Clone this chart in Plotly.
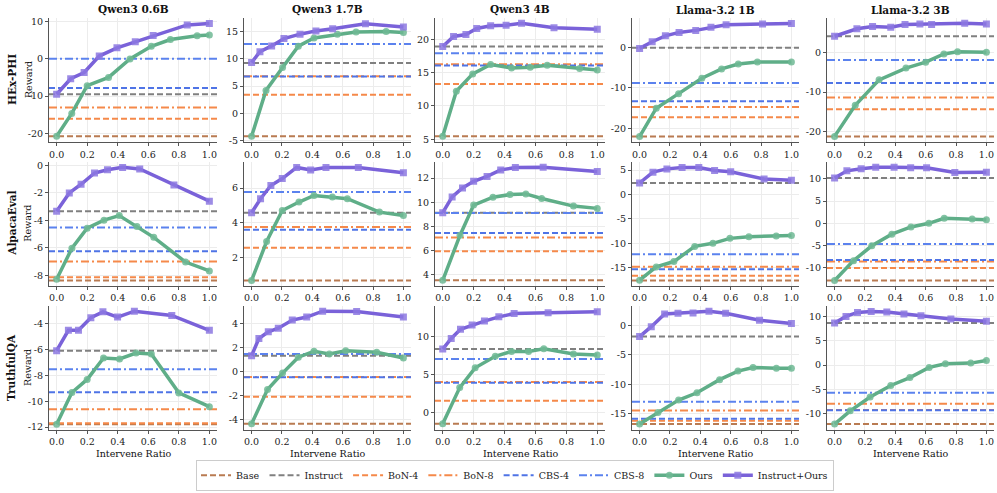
import plotly.graph_objects as go
from plotly.subplots import make_subplots

# ---------------- data ----------------
MODELS = ["Qwen3 0.6B", "Qwen3 1.7B", "Qwen3 4B", "Llama-3.2 1B", "Llama-3.2 3B"]
DATASETS = ["HEx-PHI", "AlpacaEval", "TruthfulQA"]
BASELINE_NAMES = ["Base", "Instruct", "BoN-4", "BoN-8", "CBS-4", "CBS-8"]
X_TICKS = [0.0, 0.2, 0.4, 0.6, 0.8, 1.0]

# HEx-PHI
HEX_IO_X = [
    [0, 0.092, 0.18, 0.279, 0.395, 0.515, 0.632, 0.855, 1.0],
    [0, 0.055, 0.132, 0.213, 0.319, 0.424, 0.534, 0.75, 1.0],
    [0, 0.07, 0.15, 0.22, 0.31, 0.41, 0.51, 0.72, 1.0],
    [0, 0.083, 0.17, 0.26, 0.37, 0.47, 0.57, 0.81, 1.0],
    [0, 0.147, 0.25, 0.37, 0.464, 0.562, 0.639, 0.857, 1.0],
]
HEX_IO_Y = [
    [-9.5, -5.35, -3.7, 0.7, 2.9, 4.5, 6.2, 9.0, 9.4],
    [9.3, 11.3, 12.35, 13.7, 14.5, 15.1, 15.5, 16.4, 15.8],
    [18.9, 20.4, 20.7, 21.6, 22.0, 22.1, 22.4, 21.7, 21.5],
    [-0.25, 1.4, 2.85, 3.7, 4.2, 5.0, 5.6, 5.8, 5.9],
    [4.2, 6.1, 6.7, 6.5, 7.2, 7.3, 7.2, 7.5, 7.3],
]
HEX_OURS_X = [
    [0, 0.099, 0.2, 0.34, 0.48, 0.62, 0.745, 0.92, 1.0],
    [0, 0.095, 0.204, 0.308, 0.411, 0.565, 0.688, 0.886, 1.0],
    [0, 0.088, 0.194, 0.31, 0.445, 0.566, 0.676, 0.886, 1.0],
    [0, 0.11, 0.257, 0.41, 0.54, 0.65, 0.776, 1.0],
    [0, 0.136, 0.293, 0.47, 0.6, 0.72, 0.81, 1.0],
]
HEX_OURS_Y = [
    [-20.7, -14.6, -7.2, -5.0, -0.1, 3.3, 5.1, 6.1, 6.3],
    [-4.2, 4.2, 8.4, 12.3, 13.8, 14.5, 14.9, 15.0, 14.8],
    [5.45, 12.2, 14.8, 16.2, 15.7, 15.8, 16.1, 15.6, 15.4],
    [-22.0, -15.0, -11.4, -7.6, -5.3, -4.1, -3.6, -3.6],
    [-21.3, -13.4, -6.9, -3.9, -2.4, -0.3, 0.25, 0.1],
]
# order: Base, Instruct, BoN-4, BoN-8, CBS-4, CBS-8
HEX_BASELINES = [
    [-20.7, -9.5, -16.0, -13.0, -7.8, 0.0],
    [-4.2, 9.2, 3.4, 6.8, 6.75, 12.7],
    [5.45, 18.9, 13.3, 16.25, 16.05, 17.9],
    [-22.0, -0.1, -17.2, -14.7, -13.3, -8.8],
    [-21.3, 4.2, -14.4, -11.4, -7.7, -1.85],
]

# AlpacaEval
ALP_IO_X = [
    [0, 0.083, 0.16, 0.248, 0.333, 0.432, 0.544, 0.768, 1.0],
    [0, 0.059, 0.127, 0.202, 0.297, 0.389, 0.49, 0.703, 1.0],
    [0, 0.061, 0.128, 0.2, 0.287, 0.375, 0.47, 0.65, 1.0],
    [0, 0.088, 0.18, 0.28, 0.39, 0.494, 0.6, 0.82, 1.0],
    [0, 0.081, 0.175, 0.271, 0.392, 0.501, 0.606, 0.792, 1.0],
]
ALP_IO_Y = [
    [-3.34, -2.0, -1.37, -0.55, -0.31, -0.14, -0.26, -1.42, -2.6],
    [4.58, 5.39, 6.15, 6.55, 7.19, 7.04, 7.19, 7.19, 6.89],
    [9.13, 10.44, 11.18, 11.73, 12.14, 12.68, 12.87, 12.9, 12.55],
    [2.36, 4.58, 5.25, 5.52, 5.52, 4.92, 4.65, 3.17, 2.9],
    [10.19, 11.82, 12.27, 12.64, 12.64, 12.49, 12.49, 11.45, 11.52],
]
ALP_OURS_X = [
    [0, 0.1, 0.2, 0.31, 0.41, 0.526, 0.636, 0.844, 1.0],
    [0, 0.099, 0.202, 0.312, 0.411, 0.532, 0.631, 0.842, 1.0],
    [0, 0.112, 0.2, 0.325, 0.435, 0.538, 0.64, 0.846, 1.0],
    [0, 0.11, 0.226, 0.363, 0.483, 0.595, 0.72, 0.9, 1.0],
    [0, 0.125, 0.245, 0.377, 0.503, 0.621, 0.722, 0.906, 1.0],
]
ALP_OURS_Y = [
    [-8.3, -6.03, -4.57, -3.99, -3.65, -4.45, -5.24, -7.04, -7.69],
    [0.69, 2.93, 4.71, 5.2, 5.58, 5.49, 5.39, 4.62, 4.43],
    [3.53, 7.27, 9.76, 10.42, 10.63, 10.69, 10.31, 9.68, 9.49],
    [-17.5, -14.8, -13.7, -10.6, -9.97, -8.96, -8.62, -8.48, -8.35],
    [-12.86, -8.4, -5.06, -2.45, -0.82, 0.0, 1.12, 0.97, 0.82],
]
ALP_BASELINES = [
    [-8.39, -3.34, -8.15, -7.0, -6.25, -4.52],
    [0.69, 4.58, 2.57, 3.76, 3.61, 5.77],
    [3.53, 9.13, 5.93, 7.08, 7.44, 9.1],
    [-17.6, 2.36, -16.6, -14.75, -15.3, -12.2],
    [-12.86, 10.19, -10.04, -8.62, -8.25, -4.68],
]

# TruthfulQA
TQA_IO_X = [
    [0, 0.077, 0.143, 0.224, 0.303, 0.399, 0.509, 0.754, 1.0],
    [0, 0.048, 0.11, 0.176, 0.268, 0.363, 0.468, 0.692, 1.0],
    [0, 0.055, 0.115, 0.19, 0.27, 0.363, 0.462, 0.682, 1.0],
    [0, 0.077, 0.165, 0.253, 0.352, 0.457, 0.567, 0.79, 1.0],
    [0, 0.075, 0.151, 0.241, 0.344, 0.457, 0.569, 0.766, 1.0],
]
TQA_IO_Y = [
    [-6.09, -4.51, -4.51, -3.54, -3.08, -3.49, -3.03, -3.36, -4.51],
    [1.34, 2.77, 3.32, 3.62, 4.3, 4.55, 5.04, 5.01, 4.55],
    [8.35, 9.74, 10.96, 11.52, 12.04, 12.6, 13.04, 13.13, 13.26],
    [-1.9, -0.22, 1.95, 2.06, 2.12, 2.4, 2.06, 0.89, 0.33],
    [8.74, 10.1, 10.92, 11.13, 10.99, 10.58, 10.24, 9.56, 9.08],
]
TQA_OURS_X = [
    [0, 0.1, 0.2, 0.307, 0.412, 0.52, 0.62, 0.8, 1.0],
    [0, 0.105, 0.204, 0.308, 0.411, 0.512, 0.62, 0.824, 1.0],
    [0, 0.11, 0.21, 0.34, 0.445, 0.555, 0.654, 0.846, 1.0],
    [0, 0.121, 0.257, 0.378, 0.527, 0.648, 0.747, 0.901, 1.0],
    [0, 0.103, 0.234, 0.37, 0.496, 0.623, 0.73, 0.897, 1.0],
]
TQA_OURS_Y = [
    [-11.77, -9.32, -8.31, -6.65, -6.73, -6.27, -6.34, -9.35, -10.42],
    [-4.33, -1.48, -0.11, 1.21, 1.7, 1.48, 1.75, 1.62, 1.15],
    [-1.52, 3.26, 5.87, 7.39, 8.04, 8.04, 8.39, 7.7, 7.57],
    [-16.73, -14.78, -12.66, -11.43, -9.2, -7.75, -7.14, -7.25, -7.25],
    [-12.22, -9.49, -6.62, -4.23, -2.59, -0.48, 0.27, 0.41, 0.96],
]
TQA_BASELINES = [
    [-11.77, -6.09, -11.69, -10.62, -9.3, -7.52],
    [-4.33, 1.34, -2.08, -0.44, -0.46, 1.48],
    [-1.52, 8.35, 1.52, 4.0, 3.91, 7.04],
    [-16.73, -1.9, -16.17, -14.45, -15.84, -12.94],
    [-12.22, 8.74, -9.3, -7.99, -9.35, -5.73],
]

# y-axis ranges and tick steps
Y_RANGES = [
    [[-22.3, 10.9], [-5.3, 17.5], [4.56, 23.2], [-23.4, 7.3], [-22.8, 8.9]],
    [[-8.75, 0.25], [0.4, 7.5], [3.1, 13.33], [-18.6, 6.65], [-14.0, 13.8]],
    [[-12.2, -2.65], [-4.82, 5.45], [-2.3, 14.0], [-17.7, 3.25], [-13.4, 12.2]],
]
Y_DTICK = [[10, 5, 5, 10, 10], [2, 2, 2, 5, 5], [2, 2, 5, 5, 5]]
X_RANGE = [-0.05, 1.05]

# ---------------- styles ----------------
FONT = "DejaVu Serif"
W, H = 997, 493
COL_PX = [(49, 217), (244, 411), (435, 605), (632, 799), (827, 994)]
ROW_PX = [(16, 142), (162, 287), (308, 433)]
BL_STYLE = {
    "Base": ("#b97b52", "6px,3px"),
    "Instruct": ("#808080", "6px,3px"),
    "BoN-4": ("#f5894a", "6px,3px"),
    "BoN-8": ("#f5894a", "8px,3px,2px,3px"),
    "CBS-4": ("#4f74e6", "6px,3px"),
    "CBS-8": ("#5b82ee", "8px,3px,2px,3px"),
}
OURS_COLOR = "#5fae88"
IO_COLOR = "#7a62d9"

data_rows = [
    (HEX_IO_X, HEX_IO_Y, HEX_OURS_X, HEX_OURS_Y, HEX_BASELINES),
    (ALP_IO_X, ALP_IO_Y, ALP_OURS_X, ALP_OURS_Y, ALP_BASELINES),
    (TQA_IO_X, TQA_IO_Y, TQA_OURS_X, TQA_OURS_Y, TQA_BASELINES),
]

fig = make_subplots(rows=3, cols=5)

for r in range(3):
    io_x, io_y, ou_x, ou_y, bls = data_rows[r]
    for c in range(5):
        first = (r == 0 and c == 0)
        for k, name in enumerate(BASELINE_NAMES):
            col, dash = BL_STYLE[name]
            fig.add_trace(go.Scatter(
                x=X_RANGE, y=[bls[c][k], bls[c][k]], mode="lines",
                line=dict(color=col, width=2, dash=dash),
                name=name, legendgroup=name, showlegend=first, hoverinfo="skip"),
                row=r + 1, col=c + 1)
        fig.add_trace(go.Scatter(
            x=ou_x[c], y=ou_y[c], mode="lines+markers",
            line=dict(color=OURS_COLOR, width=3.5),
            marker=dict(symbol="circle", size=7, color="rgba(110,185,148,0.85)",
                        line=dict(width=0)),
            name="Ours", legendgroup="Ours", showlegend=first),
            row=r + 1, col=c + 1)
        fig.add_trace(go.Scatter(
            x=io_x[c], y=io_y[c], mode="lines+markers",
            line=dict(color=IO_COLOR, width=3.5),
            marker=dict(symbol="square", size=7, color="rgba(140,120,225,0.85)",
                        line=dict(width=0)),
            name="Instruct+Ours", legendgroup="Instruct+Ours", showlegend=first),
            row=r + 1, col=c + 1)

        i = r * 5 + c + 1
        xa = "xaxis" if i == 1 else f"xaxis{i}"
        ya = "yaxis" if i == 1 else f"yaxis{i}"
        x0, x1 = COL_PX[c]
        y0, y1 = ROW_PX[r]
        lo, hi = Y_RANGES[r][c]
        dt = Y_DTICK[r][c]
        start = int((lo // dt) + 1) * dt
        yt = []
        v = start
        while v <= hi:
            yt.append(v)
            v += dt
        fig.layout[xa].update(
            domain=[x0 / W, x1 / W], range=X_RANGE,
            tickvals=X_TICKS, ticktext=[f"{t:.1f}" for t in X_TICKS],
            showgrid=True, gridcolor="#ececec", gridwidth=0.8, zeroline=False,
            showline=True, linecolor="#555", linewidth=1.2,
            ticks="outside", ticklen=3, tickcolor="#555",
            tickfont=dict(family=FONT, size=9.5, color="#222"))
        fig.layout[ya].update(
            domain=[1 - y1 / H, 1 - y0 / H], range=[lo, hi],
            tickvals=yt, ticktext=[str(int(t)) for t in yt],
            showgrid=True, gridcolor="#ececec", gridwidth=0.8, zeroline=False,
            showline=True, linecolor="#555", linewidth=1.2,
            ticks="outside", ticklen=3, tickcolor="#555",
            tickfont=dict(family=FONT, size=9.5, color="#222"))

annotations = []
for c, m in enumerate(MODELS):
    x0, x1 = COL_PX[c]
    annotations.append(dict(
        text=f"<b>{m}</b>", x=(x0 + x1) / 2 / W, y=1 - 8 / H, xref="paper", yref="paper",
        showarrow=False, font=dict(family=FONT, size=10.5, color="#111"),
        xanchor="center", yanchor="middle"))
    annotations.append(dict(
        text="Intervene Ratio", x=(x0 + x1) / 2 / W, y=1 - 457 / H, xref="paper", yref="paper",
        showarrow=False, font=dict(family=FONT, size=9.5, color="#111"),
        xanchor="center", yanchor="middle"))
for r, d in enumerate(DATASETS):
    y0, y1 = ROW_PX[r]
    annotations.append(dict(
        text=f"<b>{d}</b>", x=12 / W, y=1 - (y0 + y1) / 2 / H, xref="paper", yref="paper",
        showarrow=False, textangle=-90, font=dict(family=FONT, size=10.5, color="#111"),
        xanchor="center", yanchor="middle"))
    annotations.append(dict(
        text="Reward", x=28 / W, y=1 - (y0 + y1) / 2 / H, xref="paper", yref="paper",
        showarrow=False, textangle=-90, font=dict(family=FONT, size=9.5, color="#111"),
        xanchor="center", yanchor="middle"))

fig.update_layout(
    width=W, height=H, margin=dict(l=0, r=0, t=0, b=0),
    paper_bgcolor="white", plot_bgcolor="white",
    font=dict(family=FONT, size=9.5, color="#222"),
    annotations=annotations,
    legend=dict(orientation="h", x=515 / W, xanchor="center", y=1 - 479 / H,
                yanchor="middle", bordercolor="#cccccc", borderwidth=1,
                font=dict(family=FONT, size=9.5, color="#222"),
                itemwidth=30, tracegroupgap=0),
)

fig.write_html("out.html")
